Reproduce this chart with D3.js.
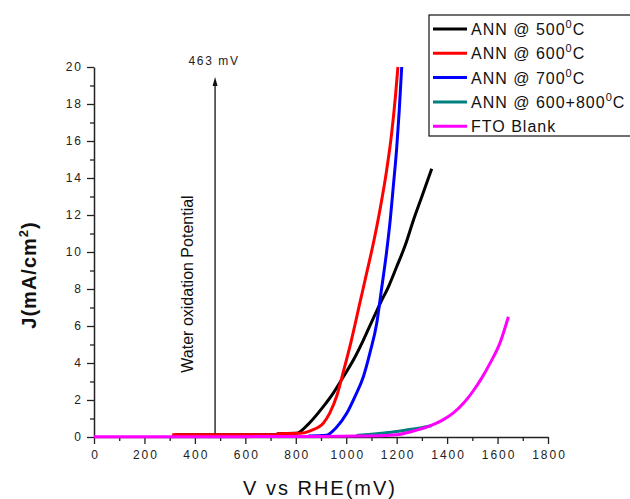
<!DOCTYPE html>
<html>
<head>
<meta charset="utf-8">
<script src="https://cdn.jsdelivr.net/npm/d3@7"></script>
<style>
  body { margin: 0; background: #fff; }
  text { font-family: Arial, "Liberation Sans", sans-serif; }
</style>
</head>
<body>
<div id="chart"></div>
<script>
// series: potential (mV vs RHE) and current density (mA/cm2)
const seriesNames = ["ANN @ 500", "ANN @ 600", "ANN @ 700", "ANN @ 600+800", "FTO Blank"];
const seriesColors = ["#000000", "#ff0000", "#0000ff", "#008080", "#ff00ff"];

const blackV = [320, 500, 720, 730, 802, 850, 909, 950, 989, 1030, 1068, 1100, 1134, 1170, 1200, 1235, 1266, 1300, 1339];
const blackJ = [0.12, 0.12, 0.12, 0.18, 0.2, 0.7, 1.64, 2.4, 3.26, 4.2, 5.24, 6.2, 7.2, 8.2, 9.2, 10.4, 11.7, 13.0, 14.5];

const redV = [310, 500, 720, 730, 817, 860, 909, 935, 962, 990, 1020, 1055, 1080, 1108, 1134, 1160, 1180, 1195, 1205];
const redJ = [0.12, 0.12, 0.12, 0.18, 0.2, 0.35, 0.74, 1.3, 2.2, 3.6, 5.2, 7.3, 8.8, 10.5, 12.3, 14.4, 16.4, 18.4, 20.0];

const blueV = [850, 922, 960, 1002, 1035, 1068, 1095, 1121, 1140, 1160, 1175, 1187, 1200, 1210, 1220];
const blueJ = [0.06, 0.1, 0.5, 1.28, 2.2, 3.26, 4.6, 6.15, 8.0, 10.0, 11.8, 13.6, 15.6, 17.6, 20.0];

const tealV = [1040, 1100, 1150, 1200, 1250, 1300, 1340];
const tealJ = [0.08, 0.15, 0.22, 0.3, 0.4, 0.5, 0.62];

const fftoV = [0, 300, 600, 900, 1050, 1150, 1200, 1260, 1332, 1380, 1425, 1470, 1504, 1540, 1570, 1610, 1643];
const fftoJ = [0.02, 0.02, 0.02, 0.03, 0.05, 0.08, 0.12, 0.3, 0.6, 0.9, 1.3, 1.9, 2.5, 3.25, 3.98, 5.1, 6.5];

const xTicks = [0, 200, 400, 600, 800, 1000, 1200, 1400, 1600, 1800];
const yTicks = [0, 2, 4, 6, 8, 10, 12, 14, 16, 18, 20];
const markerV = 480;
const markerLabel = "463 mV";

let w = 630;
let h = 499;
let marginLeft = 94;
let marginRight = 82;
let marginTop = 67;
let marginBottom = 62;

let x = d3.scaleLinear().domain([0, 1800]).range([marginLeft, w - marginRight]);
let y = d3.scaleLinear().domain([0, 20]).range([h - marginBottom, marginTop]);

let svg = d3
  .select("#chart")
  .append("svg")
  .attr("width", w)
  .attr("height", h);

svg.append("rect").attr("width", w).attr("height", h).attr("fill", "#fff");

// minor ticks first, then major axes on top
svg
  .append("g")
  .attr("transform", `translate(0,${y(0)})`)
  .call(d3.axisBottom(x).tickValues(d3.range(100, 1800, 200)).tickSize(4).tickFormat(""))
  .call(function (g) { g.select(".domain").remove(); });

svg
  .append("g")
  .attr("transform", `translate(${x(0)},0)`)
  .call(d3.axisLeft(y).tickValues(d3.range(1, 20, 2)).tickSize(4).tickFormat(""))
  .call(function (g) { g.select(".domain").remove(); });

let xAxis = svg
  .append("g")
  .attr("transform", `translate(0,${y(0)})`)
  .call(
    d3.axisBottom(x)
      .tickValues(xTicks)
      .tickFormat(d3.format("d"))
      .tickSize(7)
      .tickSizeOuter(0)
      .tickPadding(6)
  );

let yAxis = svg
  .append("g")
  .attr("transform", `translate(${x(0)},0)`)
  .call(d3.axisLeft(y).tickValues(yTicks).tickSize(7).tickSizeOuter(0).tickPadding(4));

svg.selectAll(".tick line").attr("stroke", "#222").attr("stroke-width", 1.3);
svg.selectAll(".domain").attr("stroke", "#222").attr("stroke-width", 1.5);

xAxis
  .selectAll("text")
  .attr("font-size", 12)
  .attr("letter-spacing", "2px")
  .attr("dx", "1px")
  .attr("fill", "#222");

yAxis
  .selectAll("text")
  .attr("font-size", 12)
  .attr("letter-spacing", "2px")
  .attr("fill", "#222");

// water oxidation marker
svg
  .append("line")
  .attr("x1", x(markerV))
  .attr("x2", x(markerV))
  .attr("y1", y(0))
  .attr("y2", 84)
  .attr("stroke", "#111")
  .attr("stroke-width", 1.3);

svg
  .append("path")
  .attr("d", `M${x(markerV)},77 L${x(markerV) - 2.5},86 L${x(markerV) + 2.5},86 Z`)
  .attr("fill", "#111");

svg
  .append("text")
  .attr("x", x(markerV) - 1)
  .attr("y", 65)
  .attr("text-anchor", "middle")
  .attr("font-size", 12)
  .attr("letter-spacing", "1.6px")
  .attr("fill", "#222")
  .text(markerLabel);

svg
  .append("text")
  .attr("transform", `translate(193,284) rotate(-90)`)
  .attr("text-anchor", "middle")
  .attr("font-size", 16)
  .attr("fill", "#111")
  .text("Water oxidation Potential");

// curves
const series = [
  { v: blackV, j: blackJ },
  { v: redV, j: redJ },
  { v: blueV, j: blueJ },
  { v: tealV, j: tealJ },
  { v: fftoV, j: fftoJ }
];

let line = d3
  .line()
  .x(function (d) { return x(d[0]); })
  .y(function (d) { return y(d[1]); })
  .curve(d3.curveMonotoneX);

svg
  .append("g")
  .selectAll("path")
  .data(series)
  .enter()
  .append("path")
  .attr("d", function (s) {
    return line(d3.zip(s.v, s.j));
  })
  .attr("fill", "none")
  .attr("stroke", function (s, i) { return seriesColors[i]; })
  .attr("stroke-width", 3)
  .attr("stroke-linejoin", "round");

// axis titles
svg
  .append("text")
  .attr("x", 320)
  .attr("y", 495)
  .attr("text-anchor", "middle")
  .attr("font-size", 20)
  .attr("letter-spacing", "2px")
  .attr("fill", "#111")
  .text("V vs RHE(mV)");

let yTitle = svg
  .append("text")
  .attr("transform", `translate(36,275) rotate(-90)`)
  .attr("text-anchor", "middle")
  .attr("font-size", 20)
  .attr("font-weight", "bold")
  .attr("letter-spacing", "1px")
  .attr("fill", "#111");
yTitle.append("tspan").text("J(mA/cm");
yTitle.append("tspan").attr("font-size", 13).attr("dy", -8).text("2");
yTitle.append("tspan").attr("dy", 8).text(")");

// legend
let legend = svg.append("g").attr("transform", "translate(429,15)");

legend
  .append("rect")
  .attr("width", 220)
  .attr("height", 121)
  .attr("fill", "#fff")
  .attr("stroke", "#111")
  .attr("stroke-width", 1.2);

let item = legend
  .selectAll("g.item")
  .data(seriesNames)
  .enter()
  .append("g")
  .attr("class", "item")
  .attr("transform", function (d, i) { return `translate(0,${14 + i * 24.3})`; });

item
  .append("line")
  .attr("x1", 4)
  .attr("x2", 38)
  .attr("stroke", function (d, i) { return seriesColors[i]; })
  .attr("stroke-width", 3);

let label = item
  .append("text")
  .attr("x", 42)
  .attr("y", 6)
  .attr("font-size", 16)
  .attr("letter-spacing", "1px")
  .attr("fill", "#111");

label.append("tspan").text(function (d) { return d; });
label
  .filter(function (d) { return d !== "FTO Blank"; })
  .append("tspan")
  .attr("font-size", 11)
  .attr("dy", -7)
  .text("0");
label
  .filter(function (d) { return d !== "FTO Blank"; })
  .append("tspan")
  .attr("dy", 7)
  .text("C");
</script>
</body>
</html>
